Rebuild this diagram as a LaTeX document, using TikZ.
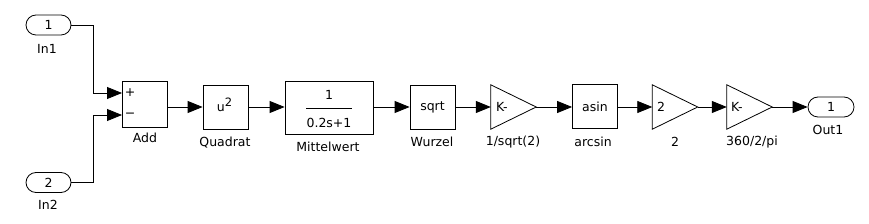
\documentclass[tikz,border=0pt]{standalone}
\usepackage{fontspec}
\setmainfont{DejaVu Sans}
\usetikzlibrary{arrows.meta}
\begin{document}
\begin{tikzpicture}[x=1pt,y=-1pt,
  font=\fontsize{12.5}{14}\selectfont,
  blk/.style={draw, line width=0.8pt, minimum width=45pt, minimum height=44pt, inner sep=0pt},
  gainbox/.style={minimum width=45pt, minimum height=44pt, inner sep=0pt},
  port/.style={draw, line width=0.8pt, rounded corners=10pt, minimum width=45pt, minimum height=20pt, inner sep=0pt},
  lbl/.style={inner sep=0pt},
  wire/.style={line width=0.8pt, -{Triangle[length=15pt,width=12pt]}},
  tri/.style={line width=0.8pt}]
\useasboundingbox (0,0) rectangle (869,224);
% inports
\node[port] (In1) at (48.5,25) {1};
\node[lbl] (In1l) at (47,49) {In1};
\node[port] (In2) at (48.5,182.5) {2};
\node[lbl] (In2l) at (48,205) {In2};
% Add
\node[blk, minimum height=46pt] (Add) at (144.5,104) {};
\node[lbl] (plus) at (130,93) {+};
\node[lbl] (minus) at (130,115) {−};
\node[lbl] (Addl) at (145,138) {Add};
\coordinate (ap) at (122,93);
\coordinate (am) at (122,115);
% Quadrat
\node[blk] (Quad) at (225.5,107) {};
\node[lbl] (Quadt) at (224.5,105) {u\raisebox{5pt}{\fontsize{11.5}{12}\selectfont 2}};
\node[lbl] (Quadl) at (225,143) {Quadrat};
% Mittelwert
\node[blk, minimum width=88pt, minimum height=53pt] (Mitt) at (329,107.5) {};
\node[lbl] (num) at (329,95) {1};
\draw[line width=0.8pt] (306,108) -- (352,108);
\node[lbl] (den) at (329,123) {0.2s+1};
\node[lbl] (Mittl) at (328,147) {Mittelwert};
% Wurzel
\node[blk] (Sqrt) at (432.5,107) {sqrt};
\node[lbl] (Sqrtl) at (432,142) {Wurzel};
% gain 1
\node[gainbox] (g1) at (513.5,107) {};
\draw[tri] (g1.north west) -- (g1.east) -- (g1.south west) -- cycle;
\node[lbl, anchor=west] (g1t) at (496,107) {K-};
\node[lbl] (g1l) at (513,142) {1/sqrt(2)};
% asin
\node[blk] (Asin) at (595,106.5) {asin};
\node[lbl] (Asinl) at (593,142) {arcsin};
% gain 2
\node[gainbox] (g2) at (675,107) {};
\draw[tri] (g2.north west) -- (g2.east) -- (g2.south west) -- cycle;
\node[lbl, anchor=west] (g2t) at (657,107) {2};
\node[lbl] (g2l) at (675,142) {2};
% gain 3
\node[gainbox] (g3) at (749.5,107) {};
\draw[tri] (g3.north west) -- (g3.east) -- (g3.south west) -- cycle;
\node[lbl, anchor=west] (g3t) at (731,107) {K-};
\node[lbl] (g3l) at (752,142) {360/2/pi};
% outport
\node[port, minimum width=46pt] (Out1) at (831,107) {1};
\node[lbl] (Out1l) at (828,130) {Out1};
% wires
\draw[wire] (In1.east) -| ([xshift=-29pt]ap) -- (ap);
\draw[wire] (In2.east) -| ([xshift=-29pt]am) -- (am);
\draw[wire] (Add.east |- Quad.west) -- (Quad.west);
\draw[wire] (Quad.east) -- (Quad.east -| Mitt.west);
\draw[wire] (Mitt.east |- Sqrt.west) -- (Sqrt.west);
\draw[wire] (Sqrt.east) -- (g1.west);
\draw[wire] (g1.east) -- (g1.east -| Asin.west);
\draw[wire] (Asin.east |- g2.west) -- (g2.west);
\draw[wire] (g2.east) -- (g3.west);
\draw[wire] (g3.east) -- (Out1.west);
\end{tikzpicture}
\end{document}
